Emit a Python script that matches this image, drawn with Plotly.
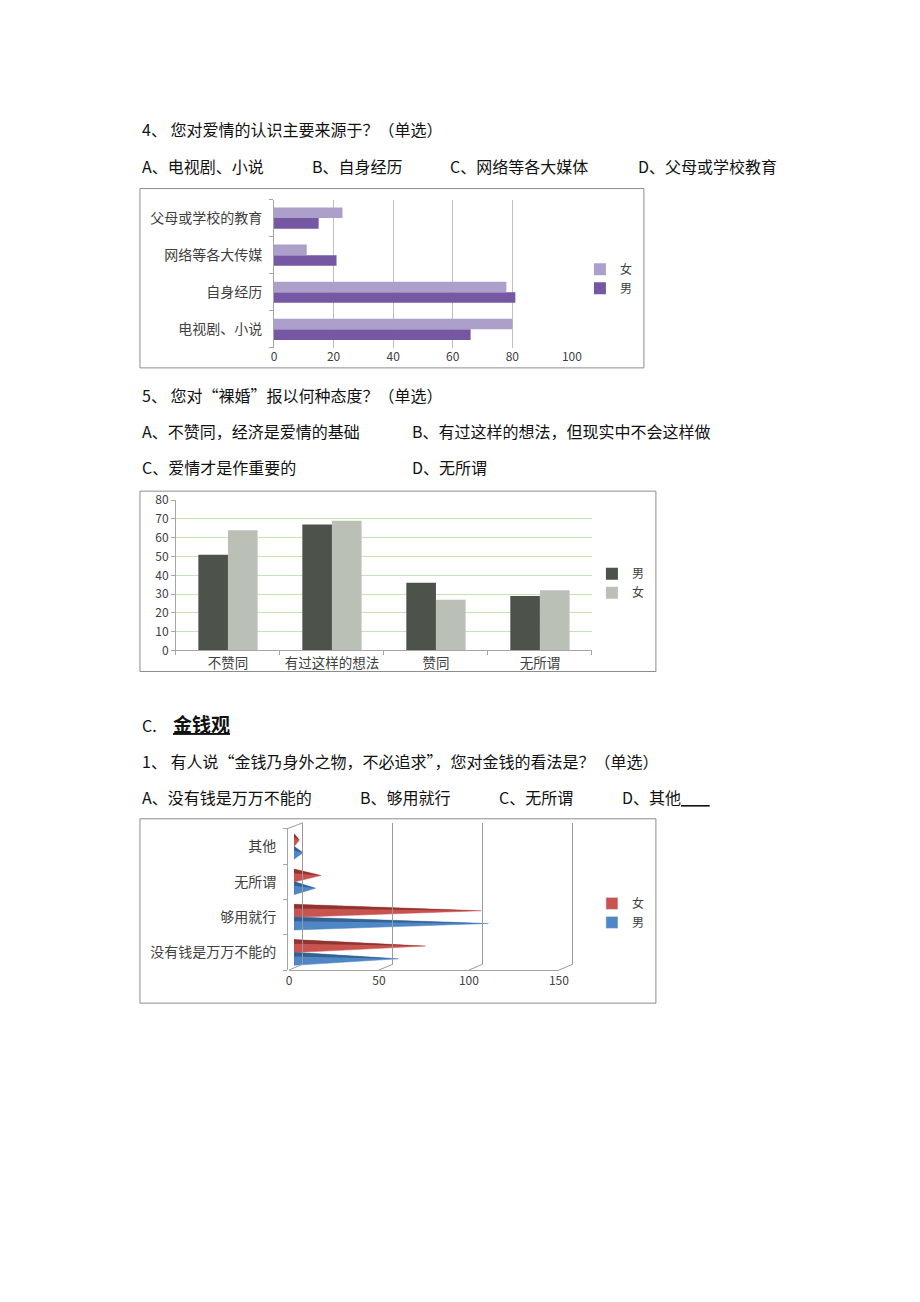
import plotly.graph_objects as go

W, H = 920, 1302
# Empirical placement correction observed in the rendered page
# (rendered = S * figure + O); positions below are given in reference pixels.
SX, OX = 0.986, 3.0
SY, OY = 0.985, 10.8


def px(x):
    return (x - OX) / SX / W


def py(y):
    return 1 - (y - OY) / SY / H


FONT = "Noto Sans CJK SC"

# ---------------- data ----------------
# Chart 1: 您对爱情的认识主要来源于
c1_categories = ["电视剧、小说", "自身经历", "网络等各大传媒", "父母或学校的教育"]
c1_female = [80, 78, 11, 23]
c1_male = [66, 81, 21, 15]
c1_ticks = [0, 20, 40, 60, 80, 100]

# Chart 2: 对“裸婚”的态度
c2_categories = ["不赞同", "有过这样的想法", "赞同", "无所谓"]
c2_male = [51, 67, 36, 29]
c2_female = [64, 69, 27, 32]
c2_ticks = [0, 10, 20, 30, 40, 50, 60, 70, 80]

# Chart 3: 对金钱的看法
c3_categories = ["没有钱是万万不能的", "够用就行", "无所谓", "其他"]
c3_female = [73, 104, 15, 3]
c3_male = [58, 108, 12, 5]
c3_ticks = [0, 50, 100, 150]

fig = go.Figure()

# ---------------- chart 1 ----------------
fig.add_trace(go.Bar(y=c1_categories, x=c1_male, orientation="h", name="男",
                     marker=dict(color="#7557A3", line=dict(width=0)),
                     xaxis="x", yaxis="y", legend="legend"))
fig.add_trace(go.Bar(y=c1_categories, x=c1_female, orientation="h", name="女",
                     marker=dict(color="#ACA0CA", line=dict(width=0)),
                     xaxis="x", yaxis="y", legend="legend"))

# ---------------- chart 2 ----------------
fig.add_trace(go.Bar(x=c2_categories, y=c2_male, name="男",
                     marker=dict(color="#4D534A", line=dict(width=0)),
                     xaxis="x2", yaxis="y2", legend="legend2"))
fig.add_trace(go.Bar(x=c2_categories, y=c2_female, name="女",
                     marker=dict(color="#BBC0B6", line=dict(width=0)),
                     xaxis="x2", yaxis="y2", legend="legend2"))

# ---------------- chart 3 (cones) ----------------
HALF = 0.185


def cone_xy(values, offset, top_only=False):
    xs, ys = [], []
    for i, v in enumerate(values):
        c = i + offset
        if top_only:
            xs += [0, v, 0, 0, None]
            ys += [c + HALF, c, c + HALF * 0.35, c + HALF, None]
        else:
            xs += [0, v, 0, 0, None]
            ys += [c - HALF, c, c + HALF, c - HALF, None]
    return xs, ys


for vals, off, name, col, dark in [
    (c3_female, 0.18, "女", "#C9534F", "#8E3531"),
    (c3_male, -0.18, "男", "#4F86C6", "#35608F"),
]:
    xs, ys = cone_xy(vals, off)
    fig.add_trace(go.Scatter(x=xs, y=ys, mode="lines", fill="toself", fillcolor=col,
                             line=dict(color=col, width=0.5), name=name, showlegend=False,
                             xaxis="x3", yaxis="y3", hoverinfo="skip"))
    xs, ys = cone_xy(vals, off, top_only=True)
    fig.add_trace(go.Scatter(x=xs, y=ys, mode="lines", fill="toself", fillcolor=dark,
                             line=dict(color=dark, width=0), showlegend=False,
                             xaxis="x3", yaxis="y3", hoverinfo="skip"))
    # legend entry (square swatch)
    fig.add_trace(go.Bar(x=[None], y=[None], name=name, marker=dict(color=col),
                         xaxis="x3", yaxis="y3", legend="legend3", hoverinfo="skip"))

# invisible anchors so the label axis and back-wall grid axis get drawn
fig.add_trace(go.Scatter(x=[0], y=[0], mode="markers", marker=dict(opacity=0),
                         showlegend=False, hoverinfo="skip", xaxis="x4", yaxis="y3"))
fig.add_trace(go.Scatter(x=[0], y=[0.5], mode="markers", marker=dict(opacity=0),
                         showlegend=False, hoverinfo="skip", xaxis="x5", yaxis="y5"))

GRID = "#BFBFBF"
AXL = "#A6A6A6"
TXT = "#404040"

# chart 3 geometry (reference pixels)
C3_FRONT0, C3_BACK0, C3_SCALE = 289, 303, 1.8
C3_BOTTOM, C3_TOP = 969, 828
C3_DEPTH_DY = 6

layout_axes = dict(
    xaxis=dict(domain=[px(274), px(572)], range=[0, 100], anchor="y",
               tickvals=c1_ticks, showgrid=True, gridcolor=GRID, gridwidth=1,
               zeroline=False, showline=False, ticks="",
               tickfont=dict(size=12, color=TXT, family=FONT)),
    yaxis=dict(domain=[py(348), py(200)], anchor="x", type="category",
               showline=True, linecolor=AXL, ticks="outside", tickson="boundaries",
               ticklen=4, tickcolor=AXL, showgrid=False,
               tickfont=dict(size=14, color=TXT, family=FONT), ticklabelstandoff=8),
    xaxis2=dict(domain=[px(176), px(592)], anchor="y2", type="category",
                showline=True, linecolor=AXL, ticks="outside", tickson="boundaries",
                ticklen=4, tickcolor=AXL, showgrid=False, tickangle=0,
                tickfont=dict(size=13.5, color=TXT, family=FONT)),
    yaxis2=dict(domain=[py(650), py(500)], anchor="x2", range=[0, 80],
                tickvals=c2_ticks, showgrid=True, gridcolor="#C5E1B5", gridwidth=1,
                zeroline=False, showline=True, linecolor=AXL, ticks="outside",
                ticklen=4, tickcolor=AXL,
                tickfont=dict(size=12, color=TXT, family=FONT)),
    xaxis3=dict(domain=[px(294), px(294 + 150 * C3_SCALE)], range=[0, 150],
                anchor="y3", visible=False),
    yaxis3=dict(domain=[py(C3_BOTTOM), py(C3_TOP)], range=[-0.5, 3.5],
                anchor="free", position=px(287),
                tickvals=[0, 1, 2, 3], ticktext=c3_categories, ticks="",
                minor=dict(tickvals=[-0.5, 0.5, 1.5, 2.5, 3.5], ticks="outside",
                           ticklen=4, tickcolor=AXL, showgrid=False),
                showline=True, linecolor=AXL, showgrid=False, zeroline=False,
                tickfont=dict(size=14, color=TXT, family=FONT), ticklabelstandoff=8),
    xaxis4=dict(domain=[px(C3_FRONT0), px(C3_FRONT0 + 150 * C3_SCALE)], range=[0, 150],
                anchor="y3", tickvals=c3_ticks, showgrid=False, zeroline=False,
                showline=True, linecolor=AXL, ticks="",
                tickfont=dict(size=12, color=TXT, family=FONT)),
    xaxis5=dict(domain=[px(C3_BACK0 - C3_SCALE), px(C3_BACK0 + 151 * C3_SCALE)],
                range=[-1, 151],
                anchor="y5", tickvals=c3_ticks, showticklabels=False, showgrid=True,
                gridcolor="#9A9A9A", gridwidth=1, zeroline=False, showline=False,
                ticks=""),
    yaxis5=dict(domain=[py(C3_BOTTOM - C3_DEPTH_DY), py(C3_TOP - C3_DEPTH_DY)],
                anchor="x5", range=[0, 1], visible=False),
)

shapes = []
# chart borders
for (x0, y0, x1, y1) in [(140, 189, 644, 368), (140, 491, 656, 671), (140, 818, 656, 1002)]:
    shapes.append(dict(type="rect", xref="paper", yref="paper",
                       x0=px(x0), y0=py(y0), x1=px(x1), y1=py(y1),
                       line=dict(color="#8C8C8C", width=1), fillcolor="rgba(0,0,0,0)"))
# chart 3: 3D floor diagonals from front ticks to back wall
for t in c3_ticks:
    fx = C3_FRONT0 + t * C3_SCALE
    bx = C3_BACK0 + t * C3_SCALE
    shapes.append(dict(type="line", xref="paper", yref="paper",
                       x0=px(fx), y0=py(C3_BOTTOM), x1=px(bx), y1=py(C3_BOTTOM - C3_DEPTH_DY),
                       line=dict(color="#9A9A9A", width=1)))
# back wall top-left diagonal
shapes.append(dict(type="line", xref="paper", yref="paper",
                   x0=px(287), y0=py(C3_TOP), x1=px(C3_BACK0), y1=py(C3_TOP - C3_DEPTH_DY),
                   line=dict(color="#9A9A9A", width=1)))

# ---------------- page text ----------------
texts = [
    (140, 130, "4、 您对爱情的认识主要来源于？（单选）"),
    (140, 166, "A、电视剧、小说"),
    (310, 166, "B、自身经历"),
    (448, 166, "C、网络等各大媒体"),
    (636, 166, "D、父母或学校教育"),
    (140, 395, "5、 您对“裸婚”报以何种态度？（单选）"),
    (140, 431, "A、不赞同，经济是爱情的基础"),
    (410, 431, "B、有过这样的想法，但现实中不会这样做"),
    (140, 467, "C、爱情才是作重要的"),
    (410, 467, "D、无所谓"),
    (140, 724, "C."),
    (140, 760, "1、 有人说“金钱乃身外之物，不必追求”，您对金钱的看法是？（单选）"),
    (140, 796, "A、没有钱是万万不能的"),
    (358, 796, "B、够用就行"),
    (497, 796, "C、无所谓"),
    (620, 796, "D、其他<span style='text-decoration:underline'>        </span>"),
]
annotations = []
for x, y, t in texts:
    annotations.append(dict(x=px(x), y=py(y), xref="paper", yref="paper", text=t,
                            showarrow=False, xanchor="left", yanchor="middle",
                            font=dict(family=FONT, size=16, color="#111111")))
annotations.append(dict(x=px(171), y=py(723), xref="paper", yref="paper",
                        text="<b><span style='text-decoration:underline'>金钱观</span></b>",
                        showarrow=False, xanchor="left", yanchor="middle",
                        font=dict(family=FONT, size=19, color="#111111")))

legend_common = dict(bgcolor="rgba(0,0,0,0)", borderwidth=0, xanchor="left",
                     yanchor="top", itemwidth=30,
                     font=dict(family=FONT, size=12, color=TXT), tracegroupgap=0)

fig.update_layout(
    width=W, height=H,
    margin=dict(l=0, r=0, t=0, b=0),
    paper_bgcolor="white", plot_bgcolor="rgba(0,0,0,0)",
    barmode="group", bargap=0.43, bargroupgap=0,
    font=dict(family=FONT, color=TXT),
    shapes=shapes, annotations=annotations,
    legend=dict(x=px(580), y=py(255), traceorder="reversed", **legend_common),
    legend2=dict(x=px(592), y=py(559), traceorder="normal", **legend_common),
    legend3=dict(x=px(592), y=py(888), traceorder="normal", **legend_common),
    **layout_axes,
)

fig.write_html("out.html")
